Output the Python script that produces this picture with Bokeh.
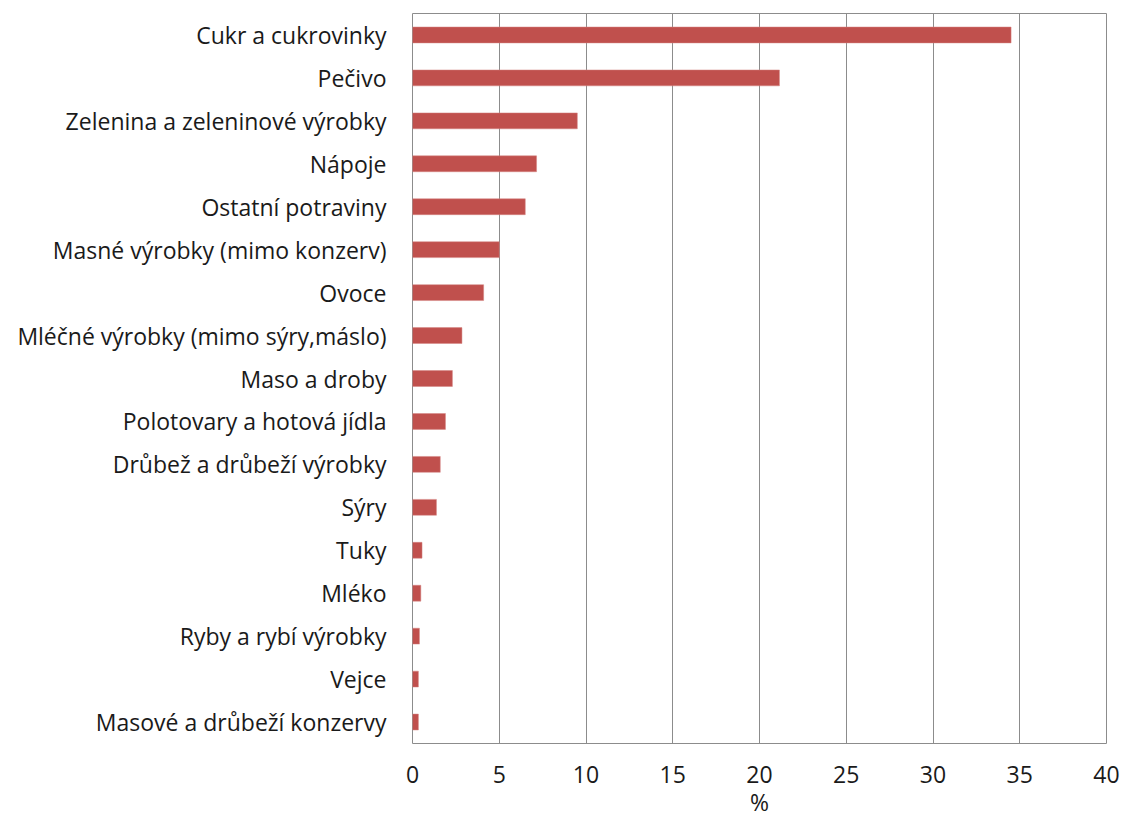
from bokeh.plotting import figure
from bokeh.models import FactorRange, Range1d, SingleIntervalTicker
from bokeh.embed import file_html
from bokeh.resources import INLINE

categories = [
    "Cukr a cukrovinky",
    "Pečivo",
    "Zelenina a zeleninové výrobky",
    "Nápoje",
    "Ostatní potraviny",
    "Masné výrobky (mimo konzerv)",
    "Ovoce",
    "Mléčné výrobky (mimo sýry,máslo)",
    "Maso a droby",
    "Polotovary a hotová jídla",
    "Drůbež a drůbeží výrobky",
    "Sýry",
    "Tuky",
    "Mléko",
    "Ryby a rybí výrobky",
    "Vejce",
    "Masové a drůbeží konzervy",
]
values = [34.5, 21.15, 9.5, 7.15, 6.5, 5.0, 4.1, 2.85, 2.3, 1.9, 1.6, 1.38,
          0.55, 0.48, 0.4, 0.34, 0.34]
x_ticks_step = 5
x_max = 40
x_title = "%"

FONT = "Open Sans"
TEXT = "#1a1a1a"
GRID = "#8c8c8c"

p = figure(
    width=1120, height=825,
    y_range=FactorRange(*reversed(categories)),
    x_range=Range1d(0, x_max),
    output_backend="svg", toolbar_location=None,
    min_border_left=412, min_border_top=13, min_border_right=14, min_border_bottom=82,
)

p.hbar(y=categories, right=values, left=0, height=0.37,
       fill_color="#C0504D", line_color="#D48482", line_width=0.5)

p.outline_line_color = GRID
p.outline_line_width = 1

p.xaxis.ticker = SingleIntervalTicker(interval=x_ticks_step)
p.xgrid.grid_line_color = GRID
p.xgrid.grid_line_width = 1
p.ygrid.grid_line_color = None

for ax in (p.xaxis[0], p.yaxis[0]):
    ax.axis_line_color = None
    ax.major_tick_line_color = None
    ax.minor_tick_line_color = None
    ax.major_label_text_font = FONT
    ax.major_label_text_font_size = "23px"
    ax.major_label_text_color = TEXT

p.yaxis.major_label_standoff = 20
p.xaxis.major_label_standoff = 16
p.xaxis.axis_label = x_title
p.xaxis.axis_label_text_font = FONT
p.xaxis.axis_label_text_font_size = "23px"
p.xaxis.axis_label_text_font_style = "normal"
p.xaxis.axis_label_text_color = TEXT
p.xaxis.axis_label_standoff = 0

open("out.html", "w").write(file_html(p, INLINE))
